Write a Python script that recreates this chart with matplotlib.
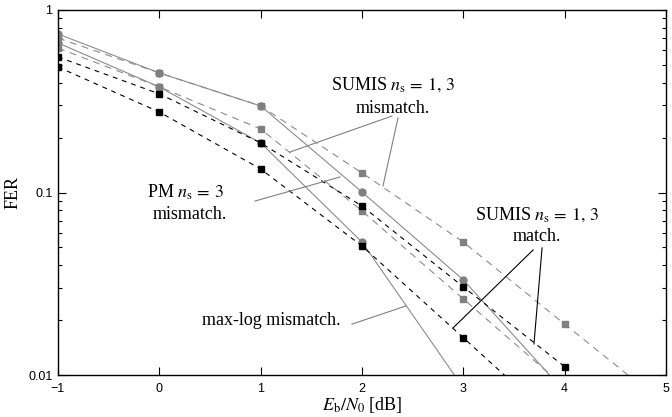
import numpy as np
import matplotlib
matplotlib.use("Agg")
import matplotlib.pyplot as plt
from matplotlib.ticker import FixedLocator, FixedFormatter, LogLocator, NullFormatter

plt.rcParams['mathtext.fontset'] = 'stix'
plt.rcParams['lines.scale_dashes'] = False

# ---- datos ----
snr = [-1, 0, 1, 2, 3, 4]
snr5 = [-1, 0, 1, 2, 3, 4, 5]

pm_mis = [0.739, 0.452, 0.298, 0.1006, 0.0332, 0.0081]
maxlog_mis = [0.66, 0.379, 0.187, 0.0535, 0.0085]
sumis_a_mis = [0.702, 0.452, 0.298, 0.128, 0.0535, 0.019, 0.0068]
sumis_b_mis = [0.619, 0.379, 0.223, 0.0792, 0.0261, 0.0086]
sumis_a_match = [0.553, 0.347, 0.187, 0.0843, 0.0304, 0.0111]
sumis_b_match = [0.487, 0.276, 0.1345, 0.0509, 0.0160, 0.005]

xticks = [-1, 0, 1, 2, 3, 4, 5]
xtick_labels = ['\u22121', '0', '1', '2', '3', '4', '5']
yticks = [0.01, 0.1, 1]
ytick_labels = ['0.01', '0.1', '1']

gray = '#808080'
gray_line = '#8c8c8c'

fig = plt.figure(figsize=(6.72, 4.17), dpi=100)
ax = fig.add_axes([58/672, 1-375/417, 608/672, 365/417])

# mismatch (gris)
ax.plot(snr, pm_mis, '-', color=gray_line, lw=0.8, marker='o', ms=5, mfc=gray, mec=gray)
ax.plot(snr[:5], maxlog_mis, '-', color=gray_line, lw=0.8, marker='o', ms=5, mfc=gray, mec=gray)
ax.plot(snr5, sumis_a_mis, '--', color=gray_line, lw=0.8, dashes=(5, 4), marker='s', ms=5, mfc=gray, mec=gray)
ax.plot(snr, sumis_b_mis, '--', color=gray_line, lw=0.8, dashes=(5, 4), marker='s', ms=5, mfc=gray, mec=gray)
# match (negro)
ax.plot(snr, sumis_a_match, '--', color='black', lw=0.8, dashes=(3.5, 3.5), marker='s', ms=5, mfc='black', mec='black')
ax.plot(snr, sumis_b_match, '--', color='black', lw=0.8, dashes=(3.5, 3.5), marker='s', ms=5, mfc='black', mec='black')

ax.set_yscale('log')
ax.set_xlim(-1, 5)
ax.set_ylim(0.01, 1)

ax.xaxis.set_major_locator(FixedLocator(xticks))
ax.xaxis.set_major_formatter(FixedFormatter(xtick_labels))
ax.yaxis.set_major_locator(FixedLocator(yticks))
ax.yaxis.set_major_formatter(FixedFormatter(ytick_labels))
ax.yaxis.set_minor_locator(LogLocator(base=10, subs=np.arange(2, 10)))
ax.yaxis.set_minor_formatter(NullFormatter())
ax.tick_params(which='both', direction='in', top=True, right=True, width=0.8,
               labelsize=9, pad=4)
ax.tick_params(axis='x', pad=6)
ax.tick_params(which='major', length=6)
ax.tick_params(which='minor', length=3)
for lab in ax.get_xticklabels() + ax.get_yticklabels():
    lab.set_family('Liberation Sans')
for s in ax.spines.values():
    s.set_linewidth(1.0)

serif = 'Liberation Serif'
ax.set_xlabel(r'$E_\mathrm{b}/N_0$ [dB]', family=serif, fontsize=13, labelpad=0)
ax.set_ylabel('FER', family=serif, fontsize=13, labelpad=5)

# anotaciones
txt = dict(family=serif, fontsize=13, ha='center', va='center')
ax.text(2.306, 0.388, r'SUMIS $n_\mathrm{s}\, =\, 1,\, 3$', **txt)
ax.text(2.306, 0.290, 'mismatch.', **txt)
ax.text(0.253, 0.1006, r'PM $n_\mathrm{s}\, =\, 3$', **txt)
ax.text(0.303, 0.0762, 'mismatch.', **txt)
ax.text(1.102, 0.020, 'max-log mismatch.', **txt)
ax.text(3.727, 0.0753, r'SUMIS $n_\mathrm{s}\, =\, 1,\, 3$', **txt)
ax.text(3.727, 0.0571, 'match.', **txt)

leaders = [
    ((2.296, 0.2625), (1.290, 0.1667), gray),
    ((2.355, 0.256), (2.207, 0.1086), gray),
    ((0.944, 0.0898), (1.783, 0.1216), gray),
    ((1.901, 0.0190), (2.434, 0.0239), gray),
    ((3.688, 0.0484), (2.898, 0.0181), 'black'),
    ((3.777, 0.0497), (3.697, 0.0148), 'black'),
]
for (x0, y0), (x1, y1), c in leaders:
    ax.plot([x0, x1], [y0, y1], '-', color=c, lw=0.8)

fig.savefig('out.png', dpi=100)
